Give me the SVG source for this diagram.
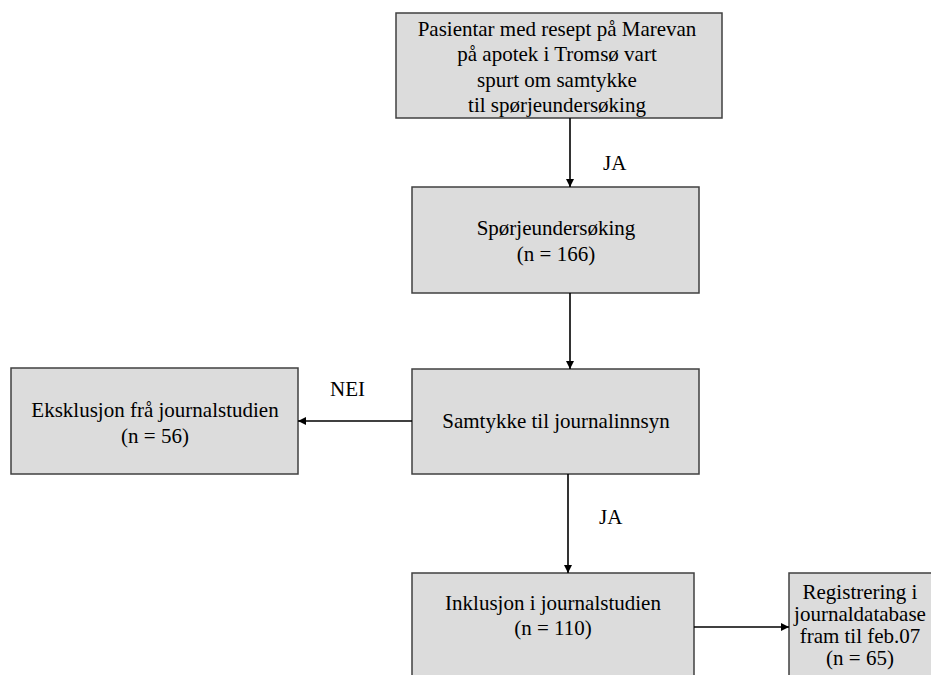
<svg xmlns="http://www.w3.org/2000/svg" width="931" height="675" viewBox="0 0 931 675">
<defs>
<style>
.box{fill:#dcdcdc;stroke:#404040;stroke-width:1.5}
.t{font-family:"Liberation Serif","Times New Roman",serif;font-size:21px;fill:#000;text-anchor:middle}
.lbl{font-family:"Liberation Serif","Times New Roman",serif;font-size:21px;fill:#000}
.c{stroke:#000;stroke-width:1.6;fill:none;marker-end:url(#ah)}
</style>
<marker id="ah" viewBox="0 0 10 10" refX="10" refY="5" markerWidth="9" markerHeight="8" markerUnits="userSpaceOnUse" orient="auto">
<path d="M0,0 L10,5 L0,10 Z" fill="#000"/>
</marker>
</defs>
<rect width="931" height="675" fill="#fff"/>
<g id="n1">
<rect class="box" x="396" y="13" width="326" height="105"/>
<text class="t" x="557" y="35.5">Pasientar med resept på Marevan</text>
<text class="t" x="557" y="61">på apotek i Tromsø vart</text>
<text class="t" x="557" y="86.5">spurt om samtykke</text>
<text class="t" x="557" y="112">til spørjeundersøking</text>
</g>
<g id="n2">
<rect class="box" x="412" y="187" width="287" height="106"/>
<text class="t" x="556" y="235">Spørjeundersøking</text>
<text class="t" x="556" y="261">(n = 166)</text>
</g>
<g id="n3">
<rect class="box" x="412" y="369" width="287" height="105"/>
<text class="t" x="556" y="428">Samtykke til journalinnsyn</text>
</g>
<g id="n4">
<rect class="box" x="11" y="368" width="287" height="106"/>
<text class="t" x="155" y="417">Eksklusjon frå journalstudien</text>
<text class="t" x="155" y="443">(n = 56)</text>
</g>
<g id="n5">
<rect class="box" x="412" y="573" width="282" height="110"/>
<text class="t" x="553" y="610">Inklusjon i journalstudien</text>
<text class="t" x="553" y="635">(n = 110)</text>
</g>
<g id="n6">
<rect class="box" x="789" y="573" width="150" height="110"/>
<text class="t" x="860" y="599">Registrering i</text>
<text class="t" x="860" y="621">journaldatabase</text>
<text class="t" x="860" y="643">fram til feb.07</text>
<text class="t" x="860" y="665">(n = 65)</text>
</g>
<g id="connectors">
<line class="c" x1="570" y1="118" x2="570" y2="187"/>
<line class="c" x1="570" y1="293" x2="570" y2="369"/>
<line class="c" x1="412" y1="421" x2="298" y2="421"/>
<line class="c" x1="568" y1="474" x2="568" y2="573"/>
<line class="c" x1="694" y1="627" x2="789" y2="627"/>
<text class="lbl" x="603" y="170">JA</text>
<text class="lbl" x="330" y="396">NEI</text>
<text class="lbl" x="599" y="524">JA</text>
</g>
</svg>
